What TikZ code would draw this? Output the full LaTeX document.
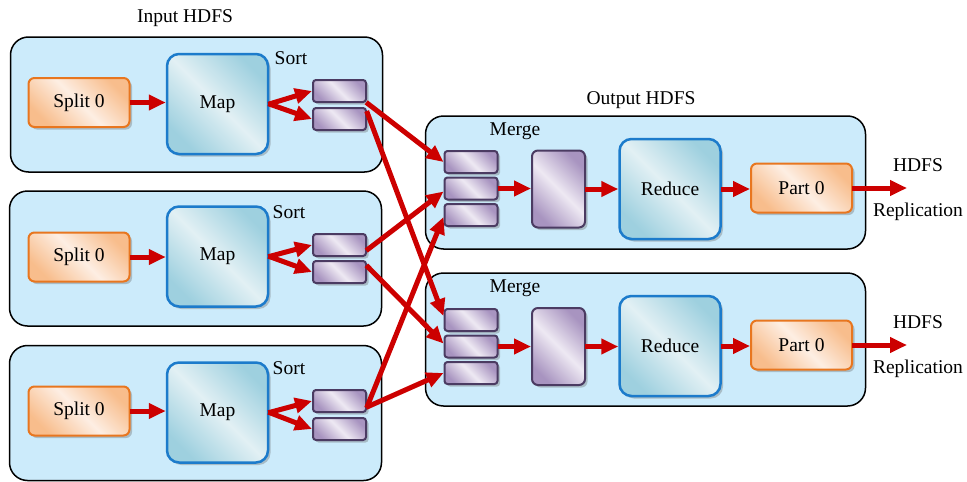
\documentclass[tikz,border=0pt]{standalone}
\usepackage{fontspec}
\setmainfont{Liberation Serif}
\usetikzlibrary{arrows.meta,shadows,calc}
\definecolor{cont}{HTML}{CCEBFB}
\definecolor{orE}{HTML}{E8761F}
\definecolor{orA}{HTML}{F8BD8C}
\definecolor{orB}{HTML}{FDEEE3}
\definecolor{blE}{HTML}{1C7BCB}
\definecolor{blA}{HTML}{9ED0DF}
\definecolor{blB}{HTML}{E2F0F4}
\definecolor{puE}{HTML}{4B3B62}
\definecolor{puA}{HTML}{A894C0}
\definecolor{puB}{HTML}{EEE9F3}
\definecolor{arr}{HTML}{CC0000}
\tikzset{
  container/.style={draw=black, line width=1.5pt, fill=cont, rounded corners=18pt,
    minimum width=372pt, minimum height=135pt, inner sep=0pt},
  outcontainer/.style={container, minimum width=440pt, minimum height=133pt},
  myshadow/.style={drop shadow={shadow xshift=2.5pt, shadow yshift=-2.5pt, opacity=0.35, fill=black!60}},
  splitbox/.style={myshadow, draw=orE, line width=2pt, rounded corners=6pt,
    left color=orA, right color=orA, middle color=orB, shading angle=-45,
    minimum width=101pt, minimum height=49pt, inner sep=0pt},
  mapbox/.style={myshadow, draw=blE, line width=2.5pt, rounded corners=12pt,
    left color=blA, right color=blA, middle color=blB, shading angle=-45,
    minimum width=101pt, minimum height=100pt, inner sep=0pt},
  sortbox/.style={myshadow, draw=puE, line width=2pt, rounded corners=3pt,
    left color=puA, right color=puA, middle color=puB, shading angle=-45,
    minimum width=53pt, minimum height=22pt, inner sep=0pt},
  midbox/.style={sortbox, rounded corners=6pt, minimum width=53pt, minimum height=77pt},
  flow/.style={draw=arr, line width=5pt, -{Triangle[length=17pt,width=15pt]}, shorten <=-1pt},
  lbl/.style={inner sep=0pt}
}
\begin{document}
\begin{tikzpicture}[x=1pt,y=-1pt, font=\fontsize{19.5}{22}\selectfont]
\useasboundingbox (0,0) rectangle (967,482);

% containers
\node[container] (in1) at (196.5,104.5) {};
\node[container] (in2) at (195.5,258.5) {};
\node[container] (in3) at (195.5,413) {};
\node[outcontainer] (out1) at (645.5,182.5) {};
\node[outcontainer] (out2) at (645.5,339.5) {};

% labels
\node[lbl] (linput) at (185,18) {Input HDFS};
\node[lbl] (loutput) at (641,100) {Output HDFS};
\node[lbl] (sortl1) at (291,58) {Sort};
\node[lbl] (sortl2) at (289,212) {Sort};
\node[lbl] (sortl3) at (289,368) {Sort};
\node[lbl] (mergel1) at (515,131) {Merge};
\node[lbl] (mergel2) at (515,288) {Merge};
\node[lbl] (hdfs1) at (918,165) {HDFS};
\node[lbl] (repl1) at (918,212) {Replication};
\node[lbl] (hdfs2) at (918,322) {HDFS};
\node[lbl] (repl2) at (918,369) {Replication};

% input side
\node[splitbox] (sp1) at (79,102.5) {Split 0};
\node[splitbox] (sp2) at (79,257) {Split 0};
\node[splitbox] (sp3) at (79,411) {Split 0};
\node[mapbox] (map1) at (217.5,104) {Map};
\node[mapbox] (map2) at (217.5,256.5) {Map};
\node[mapbox] (map3) at (217.5,412.5) {Map};
\node[sortbox] (s1a) at (339.5,91) {};
\node[sortbox] (s1b) at (339.5,119) {};
\node[sortbox] (s2a) at (339.5,245) {};
\node[sortbox] (s2b) at (339.5,272) {};
\node[sortbox] (s3a) at (339.5,401) {};
\node[sortbox] (s3b) at (339.5,429) {};

% output side
\node[sortbox] (m1a) at (471,162) {};
\node[sortbox] (m1b) at (471,188.5) {};
\node[sortbox] (m1c) at (471,215) {};
\node[sortbox] (m2a) at (471,320) {};
\node[sortbox] (m2b) at (471,346.5) {};
\node[sortbox] (m2c) at (471,373) {};
\node[midbox] (mid1) at (558.5,189) {};
\node[midbox] (mid2) at (558.5,346.5) {};
\node[mapbox] (red1) at (670,189) {Reduce};
\node[mapbox] (red2) at (670,346) {Reduce};
\node[splitbox] (pt1) at (801.5,188) {Part 0};
\node[splitbox] (pt2) at (801.5,345) {Part 0};
\coordinate (o1) at (907,188);
\coordinate (o2) at (907,345);

% input arrows
\foreach \i in {1,2,3}{
  \draw[flow] (sp\i.east) -- (sp\i.east -| map\i.west);
  \draw[flow] (map\i.east) -- (s\i a.west);
  \draw[flow] (map\i.east) -- (s\i b.west);
}

% shuffle arrows
\draw[flow] (s1a.south east) -- (m1a.west);
\draw[flow] ([yshift=-5pt]s1b.north east) -- ([yshift=4pt]m2a.west);
\draw[flow] ([yshift=-5pt]s2a.east) -- ([yshift=-3pt]m1b.west);
\draw[flow] ([yshift=6pt]s2b.east) -- ([yshift=3pt]m2b.west);
\draw[flow] ([yshift=-6pt]s3a.east) -- ([yshift=-2pt]m1c.west);
\draw[flow] ([yshift=-6pt]s3a.east) -- (m2c.west);

% output arrows
\draw[flow] (m1b.east) -- (m1b.east -| mid1.west);
\draw[flow] (mid1.east) -- (mid1.east -| red1.west);
\draw[flow] (red1.east) -- (red1.east -| pt1.west);
\draw[flow] (pt1.east) -- (o1);
\draw[flow] (m2b.east) -- (m2b.east -| mid2.west);
\draw[flow] (mid2.east) -- (mid2.east -| red2.west);
\draw[flow] (red2.east) -- (red2.east -| pt2.west);
\draw[flow] (pt2.east) -- (o2);
\end{tikzpicture}
\end{document}
